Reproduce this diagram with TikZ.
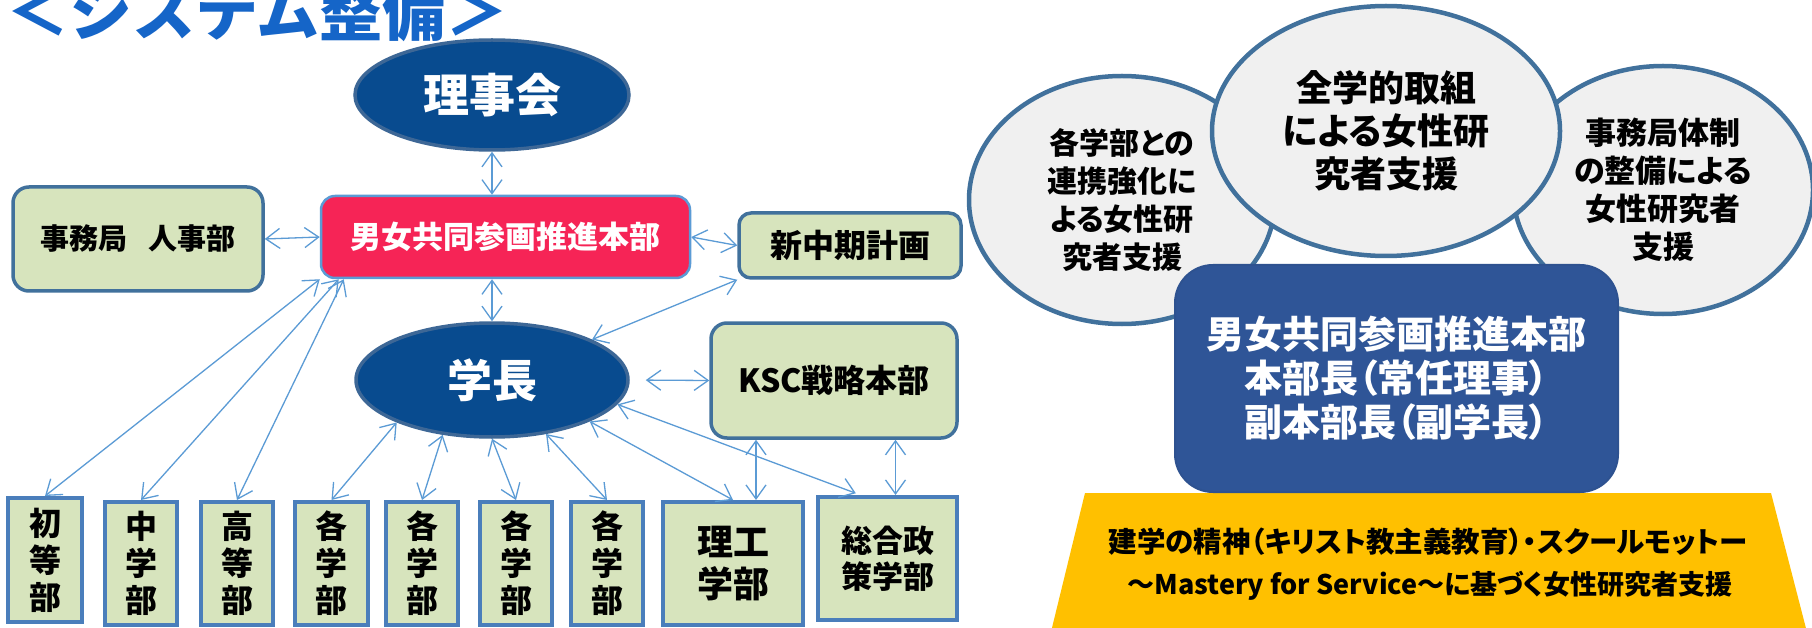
\documentclass[tikz,border=0pt]{standalone}
\usepackage{fontspec}
\setmainfont{Noto Sans CJK JP}[RawFeature={+palt}]
\newfontfamily\titlefont{Noto Sans CJK JP}
\usetikzlibrary{arrows.meta,shapes.geometric,calc}
\definecolor{arrowc}{HTML}{5B9BD5}
\definecolor{greenf}{HTML}{D7E4BD}
\definecolor{boxd}{HTML}{41719C}
\definecolor{vboxd}{HTML}{4A7EBB}
\definecolor{redf}{HTML}{F62456}
\definecolor{ellf}{HTML}{084B8F}
\definecolor{elld}{HTML}{3D6796}
\definecolor{circf}{HTML}{F0F0F0}
\definecolor{circd}{HTML}{41719C}
\definecolor{bluef}{HTML}{2F5597}
\definecolor{blued}{HTML}{2E5290}
\definecolor{trapf}{HTML}{FFC000}
\definecolor{titlec}{HTML}{1565C8}
\newcommand\fsz[2]{\fontsize{#1pt}{#2pt}\selectfont}
\begin{document}
\begin{tikzpicture}[x=1pt,y=-1pt,
  gbox/.style={draw=boxd, line width=3.5pt, fill=greenf, rounded corners=16pt, inner sep=0pt, text=black},
  vbox/.style={draw=vboxd, line width=4pt, fill=greenf, inner sep=0pt, align=center, text=black},
  oval/.style={ellipse, draw=elld, line width=3.5pt, fill=ellf, text=white, inner sep=0pt},
  bubble/.style={ellipse, draw=circd, line width=4.5pt, fill=circf, inner sep=0pt, align=center, text=black},
  arr/.style={draw=arrowc, line width=1.3pt, {Straight Barb[length=14pt,width=20pt]}-{Straight Barb[length=14pt,width=20pt]}}
]
\useasboundingbox (0,0) rectangle (1812,628);
\fill[white] (0,0) rectangle (1812,628);

% title
\node[anchor=base west, inner sep=0pt, text=titlec, font=\titlefont\fsz{63}{70}\bfseries] (title) at (6,36) {＜システム整備＞};

% left chart nodes
\node[oval, minimum width=274pt, minimum height=110pt, font=\fsz{46}{52}\bfseries] (rijikai) at (492,95) {理事会};
\node[draw=arrowc, line width=2.5pt, fill=redf, rounded corners=14pt, minimum width=369pt, minimum height=82pt, inner sep=0pt, text=white, font=\fsz{31}{36}\bfseries] (honbu) at (505.5,237) {男女共同参画推進本部};
\node[gbox, minimum width=250pt, minimum height=104pt, font=\fsz{29}{34}\bfseries] (jimu) at (138,239) {事務局\hspace{0.75em}人事部};
\node[gbox, rounded corners=12pt, minimum width=222pt, minimum height=65pt, font=\fsz{32}{36}\bfseries] (shin) at (850,245.5) {新中期計画};
\node[oval, minimum width=272pt, minimum height=114pt, font=\fsz{45}{50}\bfseries] (gakucho) at (492,380) {学長};
\node[gbox, minimum width=246pt, minimum height=115pt, font=\fsz{32}{36}\bfseries] (ksc) at (834,380.5) {KSC戦略本部};

% bottom boxes
\node[vbox, minimum width=74pt, minimum height=124pt, font=\fsz{32}{37}\bfseries] (b1) at (45,560) {初\\等\\部};
\node[vbox, minimum width=72pt, minimum height=123pt, font=\fsz{32}{37}\bfseries] (b2) at (141,563.5) {中\\学\\部};
\node[vbox, minimum width=72pt, minimum height=123pt, font=\fsz{32}{37}\bfseries] (b3) at (237,563.5) {高\\等\\部};
\node[vbox, minimum width=73pt, minimum height=123pt, font=\fsz{32}{37}\bfseries] (b4) at (331.5,563.5) {各\\学\\部};
\node[vbox, minimum width=72pt, minimum height=123pt, font=\fsz{32}{37}\bfseries] (b5) at (422,563.5) {各\\学\\部};
\node[vbox, minimum width=72pt, minimum height=123pt, font=\fsz{32}{37}\bfseries] (b6) at (516,563.5) {各\\学\\部};
\node[vbox, minimum width=72pt, minimum height=123pt, font=\fsz{32}{37}\bfseries] (b7) at (607,563.5) {各\\学\\部};
\node[vbox, minimum width=140pt, minimum height=123pt, font=\fsz{36}{42}\bfseries] (b8) at (733,563.5) {理工\\学部};
\node[vbox, minimum width=139pt, minimum height=123pt, font=\fsz{31}{36}\bfseries] (b9) at (887.5,558.5) {総合政\\策学部};

% connectors
\draw[arr] (rijikai.south) -- (rijikai.south |- honbu.north);
\draw[arr] (jimu.east) -- (honbu.west);
\draw[arr] (honbu.east) -- (shin.west);
\draw[arr] (gakucho.north |- honbu.south) -- (gakucho.north);
\draw[arr] (gakucho.22) -- (shin.south west);
\draw[arr, shorten <=16pt] (gakucho.east) -- (ksc.west);
\draw[arr] (b1.north) -- (honbu.south west);
\draw[arr] (b2.north) -- ($(honbu.south west)+(19,0)$);
\draw[arr] (b3.north) -- ($(honbu.south west)+(24,0)$);
\draw[arr] (b4.north) -- (gakucho.204);
\draw[arr] (b5.north) -- (gakucho.228);
\draw[arr] (b6.north) -- (gakucho.270);
\draw[arr] (b7.north) -- (gakucho.315);
\draw[arr] (b8.north) -- (gakucho.337);
\coordinate (r8) at ($(b8.north)+(23,0)$);
\draw[arr] (r8) -- (r8 |- ksc.south);
\coordinate (r9) at ($(b9.north)+(8,0)$);
\draw[arr] (r9) -- (r9 |- ksc.south);
\coordinate (l9) at ($(b9.north)+(-27,0)$);
\draw[arr, shorten <=5pt] (l9) -- (gakucho.349);

% right part
\node[bubble, minimum width=306pt, minimum height=248pt, font=\fsz{30}{38}\bfseries] (cl) at (1122,200) {各学部との\\連携強化に\\よる女性研\\究者支援};
\node[bubble, minimum width=300pt, minimum height=248pt, font=\fsz{31}{38}\bfseries] (cr) at (1663,190) {事務局体制\\の整備による\\女性研究者\\支援};
\node[bubble, minimum width=348pt, minimum height=250pt, font=\fsz{36}{43}\bfseries] (cm) at (1386,131) {全学的取組\\による女性研\\究者支援};
\fill[trapf] (1085,493) -- (1771,493) -- (1809,640) -- (1049,640) -- cycle;
\node[draw=blued, line width=2pt, fill=bluef, rounded corners=38pt, minimum width=443pt, minimum height=227pt, inner sep=0pt, align=center, text=white, font=\fsz{38}{44}\bfseries] (bluebox) at (1396.5,378.5) {男女共同参画推進本部\\本部長（常任理事）\\副本部長（副学長）};
\node[inner sep=0pt, font=\fsz{28.5}{30}\bfseries] (t1) at (1428,542) {建学の精神（キリスト教主義教育）・スクールモットー};
\node[inner sep=0pt, font=\fsz{27}{30}\bfseries] (t2) at (1430,586) {～Mastery for Service～に基づく女性研究者支援};
\end{tikzpicture}
\end{document}
